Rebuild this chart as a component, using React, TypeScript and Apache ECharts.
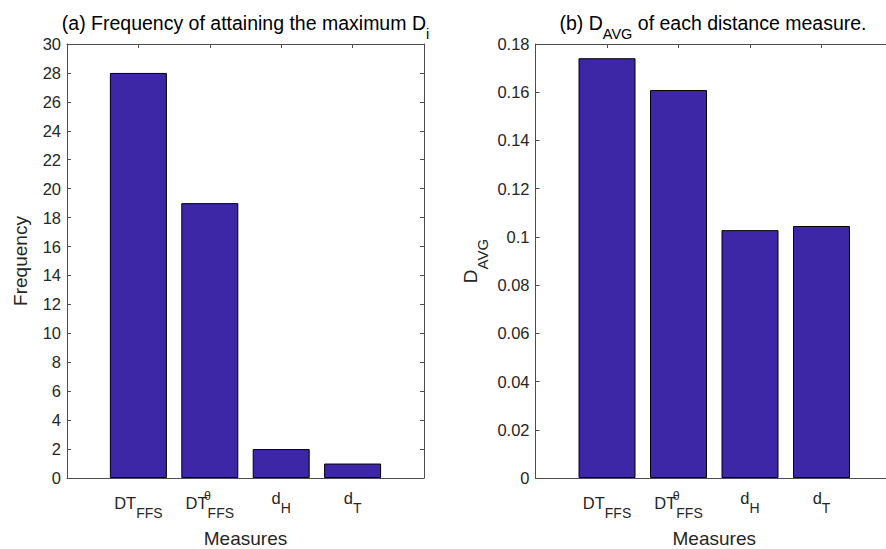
import React, { useEffect, useRef } from "react";
import * as echarts from "echarts";

// Category tick labels, written as rich-text strings (main text + sub/superscripts)
const measureLabels: string[] = [
  "{m|DT}{s|FFS}",
  "{m|DT}{p|θ}{s|FFS}",
  "{md|d}{sd|H}",
  "{md|d}{sd|T}",
];
// Category positions on the x axis (xlim 0..5)
const measurePositions: number[] = [1, 2, 3, 4];
// (a) number of times each measure attains the maximum D_i
const frequency: number[] = [28, 19, 2, 1];
// (b) average D of each measure
const davg: number[] = [0.1741, 0.1609, 0.1028, 0.1045];

const FONT = "'Liberation Sans', Arial, Helvetica, sans-serif";
const TEXT = "#262626";
const AXIS = "#4d4d4d";
const BAR = "#3d27a6";

const tickRich = {
  m: { fontSize: 16.5, lineHeight: 16.5, verticalAlign: "top", padding: [14, 0, 0, 0], color: TEXT, fontFamily: FONT },
  s: { fontSize: 14, lineHeight: 14, verticalAlign: "top", padding: [26, 0, 0, 0], color: TEXT, fontFamily: FONT },
  p: { fontSize: 12.5, lineHeight: 12.5, verticalAlign: "top", padding: [9, 0, 0, 0], width: 0, color: TEXT, fontFamily: FONT },
  md: { fontSize: 16.5, lineHeight: 16.5, verticalAlign: "top", padding: [9, 0, 0, 0], color: TEXT, fontFamily: FONT },
  sd: { fontSize: 14, lineHeight: 14, verticalAlign: "top", padding: [20.5, 0, 0, 0], color: TEXT, fontFamily: FONT },
};

function xAxes(gridIndex: number) {
  const labelFor = (v: number) => {
    const i = measurePositions.indexOf(Math.round(v));
    return i >= 0 ? measureLabels[i] : "";
  };
  return [
    {
      type: "value",
      gridIndex,
      position: "bottom",
      min: 0,
      max: 5,
      interval: 1,
      splitLine: { show: false },
      axisLine: { show: true, onZero: false, lineStyle: { color: AXIS, width: 1 } },
      axisTick: { show: true, inside: true, length: 4, lineStyle: { color: AXIS } },
      axisLabel: {
        show: true,
        margin: 2,
        formatter: labelFor,
        rich: tickRich,
        color: TEXT,
        fontFamily: FONT,
      },
      name: "Measures",
      nameLocation: "middle",
      nameGap: 51,
      nameTextStyle: { fontSize: 19, lineHeight: 19, color: TEXT, fontFamily: FONT },
    },
    {
      type: "value",
      gridIndex,
      position: "top",
      min: 0,
      max: 5,
      interval: 1,
      splitLine: { show: false },
      axisLine: { show: true, onZero: false, lineStyle: { color: AXIS, width: 1 } },
      axisTick: { show: true, inside: true, length: 4, lineStyle: { color: AXIS } },
      axisLabel: { show: false },
    },
  ];
}

function yAxes(gridIndex: number, max: number, interval: number, fmt: (v: number) => string, name: string, nameGap: number, nameRich: any) {
  return [
    {
      type: "value",
      gridIndex,
      position: "left",
      min: 0,
      max,
      interval,
      splitLine: { show: false },
      axisLine: { show: true, onZero: false, lineStyle: { color: AXIS, width: 1 } },
      axisTick: { show: true, inside: true, length: 4, lineStyle: { color: AXIS } },
      axisLabel: { show: true, margin: 6, formatter: fmt, fontSize: 16.5, color: TEXT, fontFamily: FONT },
      name,
      nameLocation: "middle",
      nameRotate: 90,
      nameGap,
      nameTextStyle: { fontSize: 19, lineHeight: 19, color: TEXT, fontFamily: FONT, rich: nameRich },
    },
    {
      type: "value",
      gridIndex,
      position: "right",
      min: 0,
      max,
      interval,
      splitLine: { show: false },
      axisLine: { show: true, onZero: false, lineStyle: { color: AXIS, width: 1 } },
      axisTick: { show: true, inside: true, length: 4, lineStyle: { color: AXIS } },
      axisLabel: { show: false },
    },
  ];
}

const titleRich = {
  m: { fontSize: 19.5, lineHeight: 19.5, verticalAlign: "top", padding: [2.5, 0, 0, 0], color: "#111", fontFamily: FONT },
  s: { fontSize: 14.5, lineHeight: 14.5, verticalAlign: "top", padding: [16.5, 0, 0, 0], color: "#111", fontFamily: FONT },
};

export default function App() {
  const ref = useRef<HTMLDivElement>(null);

  useEffect(() => {
    if (!ref.current) return;
    const chart = echarts.init(ref.current, null, { renderer: "svg" });

    const davgRich = {
      m: { fontSize: 19, lineHeight: 19, verticalAlign: "top", padding: [0, 0, 0, 0], color: TEXT, fontFamily: FONT },
      s: { fontSize: 15, lineHeight: 15, verticalAlign: "top", padding: [14.5, 0, 0, 0], color: TEXT, fontFamily: FONT },
    };

    const option: any = {
      animation: false,
      backgroundColor: "#ffffff",
      grid: [
        { left: 67, top: 44, width: 357, height: 434, containLabel: false, outerBoundsMode: "none" },
        { left: 535.5, top: 44, width: 357.5, height: 434, containLabel: false, outerBoundsMode: "none" },
      ],
      xAxis: [...xAxes(0), ...xAxes(1)],
      yAxis: [
        ...yAxes(0, 30, 2, (v: number) => String(v), "Frequency", 37, {}),
        ...yAxes(
          1,
          0.18,
          0.02,
          (v: number) => String(parseFloat(v.toFixed(2))),
          "{m|D}{s|AVG}",
          56,
          davgRich
        ),
      ],
      series: [
        {
          type: "bar",
          xAxisIndex: 0,
          yAxisIndex: 0,
          barWidth: 57,
          data: measurePositions.map((x, i) => [x, frequency[i]]),
          itemStyle: { color: BAR, borderColor: "#000", borderWidth: 1 },
        },
        {
          type: "bar",
          xAxisIndex: 2,
          yAxisIndex: 2,
          barWidth: 57,
          data: measurePositions.map((x, i) => [x, davg[i]]),
          itemStyle: { color: BAR, borderColor: "#000", borderWidth: 1 },
        },
      ],
      graphic: [
        {
          type: "text",
          x: 245.5,
          y: 10,
          style: {
            text: "{m|(a) Frequency of attaining the maximum D}{s|i}",
            align: "center",
            verticalAlign: "top",
            rich: titleRich,
          },
        },
        {
          type: "text",
          x: 713,
          y: 10,
          style: {
            text: "{m|(b) D}{s|AVG}{m| of each distance measure.}",
            align: "center",
            verticalAlign: "top",
            rich: titleRich,
          },
        },
      ],
    };

    chart.setOption(option);
    return () => chart.dispose();
  }, []);

  return <div ref={ref} style={{ width: 886, height: 549, position: "absolute", left: 0, top: 0 }} />;
}
